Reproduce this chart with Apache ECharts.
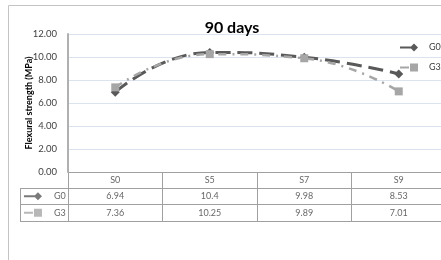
<!DOCTYPE html>
<html>
<head>
<meta charset="utf-8">
<script src="https://cdn.jsdelivr.net/npm/echarts@6/dist/echarts.min.js"></script>
<style>
html, body { margin: 0; padding: 0; background: #fff; }
#main { width: 441px; height: 260px; }
</style>
</head>
<body>
<div id="main"></div>
<script>
var categories = ["S0", "S5", "S7", "S9"];
var seriesNames = ["G0", "G3"];
var g0Values = [6.94, 10.4, 9.98, 8.53];
var g3Values = [7.36, 10.25, 9.89, 7.01];
var g0Labels = ["6.94", "10.4", "9.98", "8.53"];
var g3Labels = ["7.36", "10.25", "9.89", "7.01"];

var fontName = "Lato";
var darkGray = "#595959", lightGray = "#a6a6a6", tableLine = "#a0a0a0";
var iconG0 = "path://M0,3 L12,3 L12,5 L0,5 Z M14,0 L18,4 L14,8 L10,4 Z";
var iconG3 = "path://M0,3 L9,3 L9,5 L0,5 Z M10,0 L18,0 L18,8 L10,8 Z";

// table cells: header row, then one row per series
var cellData = [];
categories.forEach(function (c, i) {
	cellData.push([i + 0.5, 0.5, c]);
	cellData.push([i + 0.5, 1.5, g0Labels[i]]);
	cellData.push([i + 0.5, 2.5, g3Labels[i]]);
});

var chart = echarts.init(document.getElementById("main"));
var option = {
	animation: false,
	textStyle: { fontFamily: fontName },
	title: {
		text: "90 days",
		left: 227, textAlign: "center",
		top: 15,
		textStyle: { fontSize: 16, fontWeight: "bold", color: "#000", fontFamily: fontName }
	},
	graphic: [{
		type: "rect", silent: true,
		shape: { x: 8.5, y: 5.5, width: 460, height: 280 },
		style: { fill: "none", stroke: "#c4c4c4", lineWidth: 1 }
	}],
	legend: {
		orient: "vertical",
		left: 395, top: 38,
		itemWidth: 18, itemHeight: 8, itemGap: 11,
		textStyle: { fontSize: 9, color: "#404040", padding: [0, 0, 0, 6] },
		data: [{ name: "G0", icon: iconG0 }, { name: "G3", icon: iconG3 }]
	},
	grid: [
		{ left: 68, width: 378, top: 34, bottom: 88, outerBoundsMode: "none" },
		{ left: 68, width: 378, top: 172, bottom: 39, outerBoundsMode: "none" },
		{ left: 20, width: 48, top: 188, bottom: 39, outerBoundsMode: "none" }
	],
	xAxis: [{
		gridIndex: 0, type: "category", data: categories, boundaryGap: true,
		axisLine: { show: false }, axisTick: { show: false }, axisLabel: { show: false }
	}, {
		gridIndex: 1, type: "value", min: 0, max: 4, interval: 1,
		axisLine: { show: false }, axisTick: { show: false }, axisLabel: { show: false },
		splitLine: { show: true, lineStyle: { color: tableLine, width: 1 } }
	}, {
		gridIndex: 2, type: "value", min: 0, max: 1, interval: 1,
		axisLine: { show: false }, axisTick: { show: false }, axisLabel: { show: false },
		splitLine: { show: true, lineStyle: { color: tableLine, width: 1 } }
	}],
	yAxis: [{
		gridIndex: 0, type: "value", min: 0, max: 12, interval: 2,
		name: "Flexural strength (MPa)", nameLocation: "middle", nameGap: 34, nameMoveOverlap: false,
		nameTextStyle: { fontSize: 9, fontWeight: "bold", color: "#000", fontFamily: fontName },
		axisLine: { show: true, lineStyle: { color: "#b0b0b0", width: 2 } },
		axisTick: { show: false },
		axisLabel: { fontSize: 9.5, color: "#404040", margin: 11, formatter: function (v) { return v.toFixed(2); } },
		splitLine: { lineStyle: { color: "#dbe3ef", width: 1 } }
	}, {
		gridIndex: 1, type: "value", min: 0, max: 3, interval: 1, inverse: true,
		axisLine: { show: false }, axisTick: { show: false }, axisLabel: { show: false },
		splitLine: { show: true, lineStyle: { color: tableLine, width: 1 } }
	}, {
		gridIndex: 2, type: "value", min: 0, max: 2, interval: 1, inverse: true,
		axisLine: { show: false }, axisTick: { show: false }, axisLabel: { show: false },
		splitLine: { show: true, lineStyle: { color: tableLine, width: 1 } }
	}],
	series: [{
		name: "G0", type: "line", xAxisIndex: 0, yAxisIndex: 0,
		data: g0Values, smooth: 0.5,
		symbol: "diamond", symbolSize: 9,
		itemStyle: { color: darkGray },
		lineStyle: { color: darkGray, width: 3, type: [15, 7] }
	}, {
		name: "G3", type: "line", xAxisIndex: 0, yAxisIndex: 0,
		data: g3Values, smooth: 0.5,
		symbol: "rect", symbolSize: 8,
		itemStyle: { color: lightGray },
		lineStyle: { color: lightGray, width: 2.5, type: [8, 6, 2, 6] }
	}, {
		type: "scatter", xAxisIndex: 1, yAxisIndex: 1, silent: true,
		data: cellData, symbolSize: 0,
		label: {
			show: true, position: "inside", fontSize: 9, color: "#404040",
			formatter: function (p) { return p.value[2]; }
		}
	}, {
		type: "scatter", xAxisIndex: 2, yAxisIndex: 2, silent: true,
		data: [
			{ value: [0.27, 0.5, seriesNames[0]], symbol: iconG0, itemStyle: { color: darkGray } },
			{ value: [0.27, 1.5, seriesNames[1]], symbol: iconG3, itemStyle: { color: lightGray } }
		],
		symbolSize: [18, 8],
		label: {
			show: true, position: "right", distance: 12, fontSize: 9, color: "#404040",
			formatter: function (p) { return p.value[2]; }
		}
	}]
};
chart.setOption(option);
window.addEventListener("resize", chart.resize);
</script>
</body>
</html>
